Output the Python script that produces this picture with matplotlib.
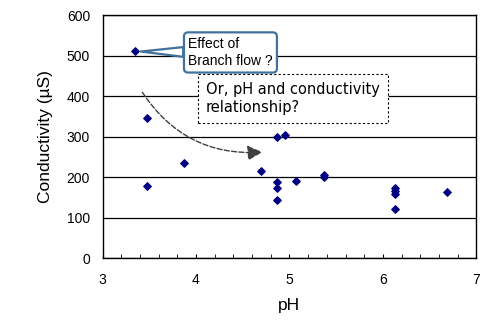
import matplotlib.pyplot as plt

# pH vs conductivity readings
ph = [3.35, 3.48, 3.48, 3.87, 4.70, 4.87, 4.87, 4.87, 4.87, 4.95,
      5.07, 5.37, 5.37, 6.13, 6.13, 6.13, 6.13, 6.68]
conductivity = [510, 345, 178, 234, 216, 299, 187, 174, 144, 304,
                191, 206, 201, 172, 166, 158, 121, 162]

x_ticks = [3, 4, 5, 6, 7]
y_ticks = [0, 100, 200, 300, 400, 500, 600]

plt.rcParams['font.family'] = ['Liberation Sans', 'DejaVu Sans']

fig = plt.figure(figsize=(4.94, 3.27), dpi=100)
ax = fig.add_axes([0.2075, 0.211, 0.757, 0.743])

ax.scatter(ph, conductivity, marker='D', s=14, color='#000080', zorder=3)

ax.set_xlim(3, 7)
ax.set_ylim(0, 600)
ax.set_xticks(x_ticks)
ax.set_yticks(y_ticks)
ax.set_xticks([3 + 0.2 * i for i in range(21)], minor=True)
ax.yaxis.grid(True, color='black', linewidth=0.9)
ax.set_axisbelow(True)
ax.tick_params(axis='x', which='both', direction='in', length=3, labelsize=10, pad=11)
ax.tick_params(axis='y', length=0, labelsize=10, pad=9)
for s in ax.spines.values():
    s.set_linewidth(1.0)

ax.set_xlabel('pH', fontsize=12.5, labelpad=8)
ax.set_ylabel('Conductivity (µS)', fontsize=12.5, labelpad=10)

# callout bubble pointing at the outlier
ax.annotate('Effect of\nBranch flow ?', xy=(3.38, 510), xycoords='data',
            xytext=(0.229, 0.846), textcoords='axes fraction',
            fontsize=10, va='center', ha='left', linespacing=1.35,
            bbox=dict(boxstyle='round,pad=0.3', fc='white', ec='#41719C', lw=1.6),
            arrowprops=dict(arrowstyle='wedge,tail_width=0.7', fc='white',
                            ec='#41719C', lw=1.6, shrinkA=0, shrinkB=2))

ax.text(0.277, 0.656, 'Or, pH and conductivity\nrelationship?', transform=ax.transAxes,
        fontsize=10.5, family='DejaVu Sans', va='center', ha='left', linespacing=1.2,
        bbox=dict(boxstyle='square,pad=0.55', fc='white', ec='black', lw=0.8, ls=(0, (2, 2))))

ax.annotate('', xy=(4.74, 262), xytext=(3.41, 415),
            arrowprops=dict(arrowstyle='-|>,head_length=0.9,head_width=0.45',
                            color='#404040', lw=1.0, ls='--',
                            connectionstyle='arc3,rad=0.3'))

fig.savefig('out.png', dpi=100)
